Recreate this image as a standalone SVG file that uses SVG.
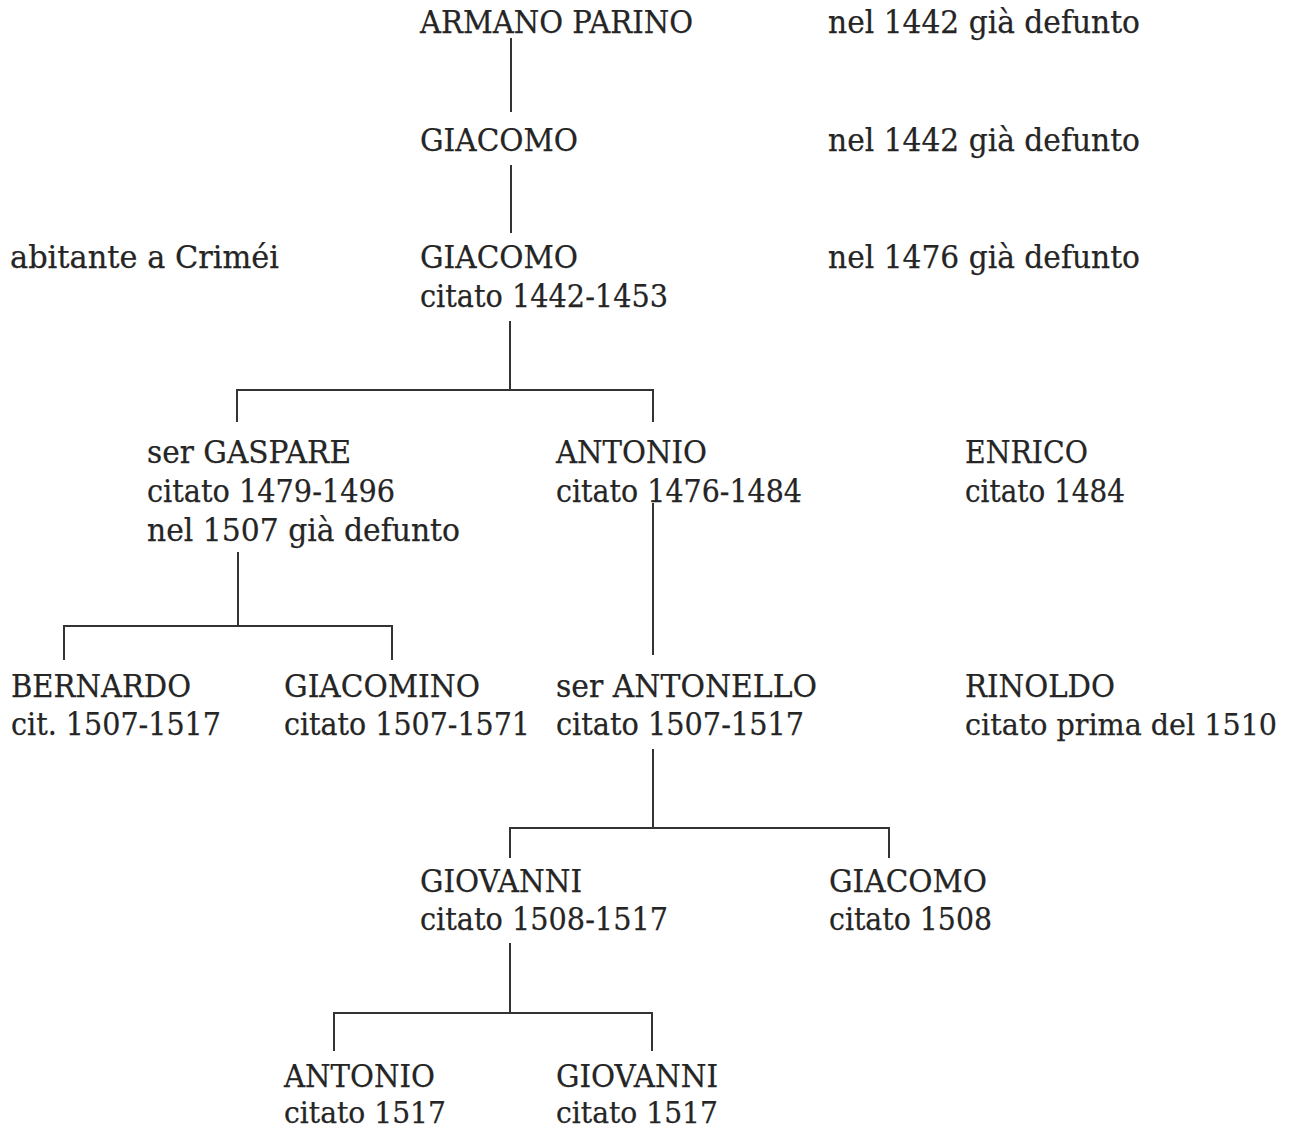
<svg xmlns="http://www.w3.org/2000/svg" width="1298" height="1130" viewBox="0 0 1298 1130">
<style>
.t{font-family:"DejaVu Serif","Liberation Serif",serif;font-size:32px;fill:#252525;stroke:#252525;stroke-width:0.25}
.c{stroke:#333;stroke-width:2;fill:none}
</style>
<rect width="1298" height="1130" fill="#ffffff"/>
<g id="connectors" class="c">
<line x1="511" y1="38" x2="511" y2="112"/>
<line x1="511" y1="165" x2="511" y2="233"/>
<path d="M510 321V390M237 422V390H653V422"/>
<path d="M653 503V655"/>
<path d="M238 552V626M64 660V626H392V660"/>
<path d="M653 749V828M510 858V828H889V858"/>
<path d="M510 943V1013M334 1051V1013H652V1051"/>
</g>
<g id="armano-parino"><text class="t" x="420" y="33" textLength="273" lengthAdjust="spacingAndGlyphs">ARMANO PARINO</text></g>
<g id="note-armano"><text class="t" x="828" y="33" textLength="312" lengthAdjust="spacingAndGlyphs">nel 1442 già defunto</text></g>
<g id="giacomo-1"><text class="t" x="420" y="151" textLength="158" lengthAdjust="spacingAndGlyphs">GIACOMO</text></g>
<g id="note-giacomo-1"><text class="t" x="828" y="151" textLength="312" lengthAdjust="spacingAndGlyphs">nel 1442 già defunto</text></g>
<g id="note-crimei"><text class="t" x="10" y="268" textLength="269" lengthAdjust="spacingAndGlyphs">abitante a Criméi</text></g>
<g id="giacomo-2"><text class="t" x="420" y="268" textLength="158" lengthAdjust="spacingAndGlyphs">GIACOMO</text><text class="t" x="420" y="307" textLength="248" lengthAdjust="spacingAndGlyphs">citato 1442-1453</text></g>
<g id="note-giacomo-2"><text class="t" x="828" y="268" textLength="312" lengthAdjust="spacingAndGlyphs">nel 1476 già defunto</text></g>
<g id="gaspare"><text class="t" x="147" y="463" textLength="204" lengthAdjust="spacingAndGlyphs">ser GASPARE</text><text class="t" x="147" y="502" textLength="248" lengthAdjust="spacingAndGlyphs">citato 1479-1496</text><text class="t" x="147" y="541" textLength="313" lengthAdjust="spacingAndGlyphs">nel 1507 già defunto</text></g>
<g id="antonio-1"><text class="t" x="556" y="463" textLength="151" lengthAdjust="spacingAndGlyphs">ANTONIO</text><text class="t" x="556" y="502" textLength="246" lengthAdjust="spacingAndGlyphs">citato 1476-1484</text></g>
<g id="enrico"><text class="t" x="965" y="463" textLength="123" lengthAdjust="spacingAndGlyphs">ENRICO</text><text class="t" x="965" y="502" textLength="160" lengthAdjust="spacingAndGlyphs">citato 1484</text></g>
<g id="bernardo"><text class="t" x="11" y="697" textLength="180" lengthAdjust="spacingAndGlyphs">BERNARDO</text><text class="t" x="11" y="735" textLength="210" lengthAdjust="spacingAndGlyphs">cit. 1507-1517</text></g>
<g id="giacomino"><text class="t" x="284" y="697" textLength="196" lengthAdjust="spacingAndGlyphs">GIACOMINO</text><text class="t" x="284" y="735" textLength="246" lengthAdjust="spacingAndGlyphs">citato 1507-1571</text></g>
<g id="antonello"><text class="t" x="556" y="697" textLength="261" lengthAdjust="spacingAndGlyphs">ser ANTONELLO</text><text class="t" x="556" y="735" textLength="248" lengthAdjust="spacingAndGlyphs">citato 1507-1517</text></g>
<g id="rinoldo"><text class="t" x="965" y="697" textLength="150" lengthAdjust="spacingAndGlyphs">RINOLDO</text><text class="t" x="965" y="735" textLength="312" lengthAdjust="spacingAndGlyphs" style="font-size:30px">citato prima del 1510</text></g>
<g id="giovanni-1"><text class="t" x="420" y="892" textLength="162" lengthAdjust="spacingAndGlyphs">GIOVANNI</text><text class="t" x="420" y="930" textLength="248" lengthAdjust="spacingAndGlyphs">citato 1508-1517</text></g>
<g id="giacomo-3"><text class="t" x="829" y="892" textLength="158" lengthAdjust="spacingAndGlyphs">GIACOMO</text><text class="t" x="829" y="930" textLength="163" lengthAdjust="spacingAndGlyphs">citato 1508</text></g>
<g id="antonio-2"><text class="t" x="284" y="1087" textLength="151" lengthAdjust="spacingAndGlyphs">ANTONIO</text><text class="t" x="284" y="1123" textLength="162" lengthAdjust="spacingAndGlyphs" style="font-size:30px">citato 1517</text></g>
<g id="giovanni-2"><text class="t" x="556" y="1087" textLength="162" lengthAdjust="spacingAndGlyphs">GIOVANNI</text><text class="t" x="556" y="1123" textLength="162" lengthAdjust="spacingAndGlyphs" style="font-size:30px">citato 1517</text></g>
</svg>
